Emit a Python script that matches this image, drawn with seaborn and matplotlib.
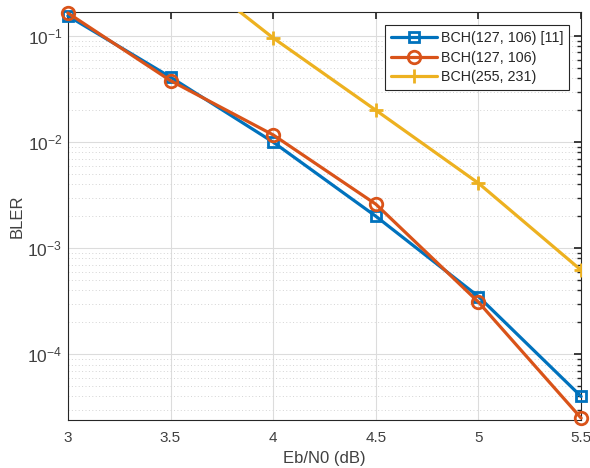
import matplotlib
matplotlib.use("Agg")
import matplotlib.pyplot as plt
import seaborn as sns
import numpy as np
import pandas as pd
from matplotlib.ticker import LogLocator, FixedLocator, FixedFormatter, NullFormatter

ebn0 = [3.0, 3.5, 4.0, 4.5, 5.0, 5.5]
xtick_labels = ["3", "3.5", "4", "4.5", "5", "5.5"]
bler_ref = [0.155, 0.041, 0.0100, 0.0020, 3.5e-4, 4.0e-5]
bler_127 = [0.165, 0.038, 0.0117, 0.0026, 3.1e-4, 2.5e-5]
bler_255 = [1.0, 0.55, 0.096, 0.020, 0.0041, 6.2e-4]
labels = ["BCH(127, 106) [11]", "BCH(127, 106)", "BCH(255, 231)"]

sns.set_theme(style="white")
plt.rcParams['font.family'] = ['Liberation Sans', 'DejaVu Sans']

fig = plt.figure(figsize=(5.9, 4.68), dpi=100)
ax = fig.add_axes([0.115, 0.1026, 0.87, 0.8714])

colors = ["#0072BD", "#D95319", "#EDB120"]
markers = ["s", "o", "+"]
msizes = [6.5, 9, 10]
clips = [False, False, True]
for yv, lab, c, m, ms, cl in zip([bler_ref, bler_127, bler_255], labels, colors, markers, msizes, clips):
    df = pd.DataFrame({"x": ebn0, "y": yv})
    mkw = dict(markerfacecolor="none", markeredgecolor=c, markeredgewidth=2) if m != "+" else dict(markeredgecolor=c, markeredgewidth=2)
    sns.lineplot(data=df, x="x", y="y", ax=ax, color=c, marker=m, markersize=ms,
                 linewidth=2.3, label=lab, clip_on=cl, zorder=3, **mkw)

ax.set_yscale("log")
ax.set_xlim(3, 5.5)
ax.set_ylim(2.4e-5, 0.168)
ax.xaxis.set_major_locator(FixedLocator(ebn0))
ax.xaxis.set_major_formatter(FixedFormatter(xtick_labels))
ax.yaxis.set_major_locator(LogLocator(base=10, numticks=10))
ax.yaxis.set_minor_locator(LogLocator(base=10, subs=np.arange(2, 10), numticks=20))
ax.yaxis.set_minor_formatter(NullFormatter())

ax.grid(True, which="major", color="#dcdcdc", linewidth=0.8, linestyle="-")
ax.grid(True, which="minor", axis="y", color="#d4d4d4", linewidth=0.7, linestyle=(0, (1, 2.5)))
ax.set_axisbelow(True)

for s in ax.spines.values():
    s.set_color("#262626")
    s.set_linewidth(0.8)
ax.tick_params(which="both", direction="in", top=True, right=True, colors="#262626",
               labelcolor="#404040")
ax.tick_params(axis="x", labelsize=11, pad=8)
ax.tick_params(axis="y", labelsize=12.5, pad=4)
ax.tick_params(which="major", length=5)
ax.tick_params(which="minor", length=3)

ax.set_xlabel("Eb/N0 (dB)", fontsize=12, color="#404040", labelpad=4)
ax.set_ylabel("BLER", fontsize=12, color="#404040", labelpad=2)

leg = ax.legend(loc="upper right", bbox_to_anchor=(0.977, 0.968), bbox_transform=ax.transAxes,
                fontsize=10.3, frameon=True,
                fancybox=False, edgecolor="#262626", framealpha=1, borderpad=0.4,
                handlelength=3.2, labelspacing=0.4, handletextpad=0.3, borderaxespad=0.0)
leg.get_frame().set_linewidth(0.8)
for t in leg.get_texts():
    t.set_color("#262626")

fig.savefig("out.png", dpi=100)
